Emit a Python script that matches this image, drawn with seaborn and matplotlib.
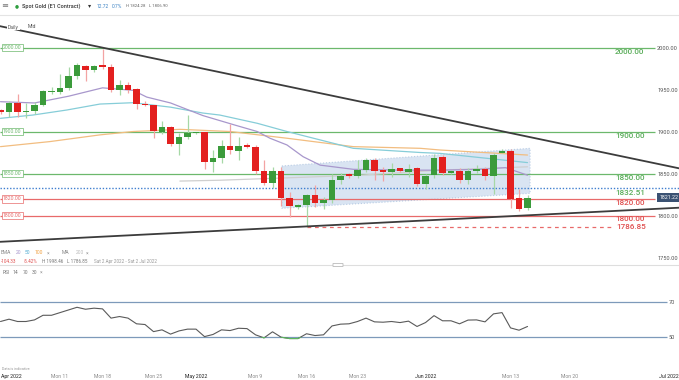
import matplotlib
matplotlib.use("Agg")
import matplotlib.pyplot as plt
import numpy as np
import pandas as pd
import seaborn as sns
from matplotlib.patches import Polygon, Rectangle, FancyBboxPatch


# daily candles (gold trades a short Sunday session, Good Friday closed)
DATES = [
    "2022-04-03", "2022-04-04", "2022-04-05", "2022-04-06", "2022-04-07", "2022-04-08",
    "2022-04-10", "2022-04-11", "2022-04-12", "2022-04-13", "2022-04-14",
    "2022-04-17", "2022-04-18", "2022-04-19", "2022-04-20", "2022-04-21", "2022-04-22",
    "2022-04-24", "2022-04-25", "2022-04-26", "2022-04-27", "2022-04-28", "2022-04-29",
    "2022-05-01", "2022-05-02", "2022-05-03", "2022-05-04", "2022-05-05", "2022-05-06",
    "2022-05-08", "2022-05-09", "2022-05-10", "2022-05-11", "2022-05-12", "2022-05-13",
    "2022-05-15", "2022-05-16", "2022-05-17", "2022-05-18", "2022-05-19", "2022-05-20",
    "2022-05-22", "2022-05-23", "2022-05-24", "2022-05-25", "2022-05-26", "2022-05-27",
    "2022-05-29", "2022-05-30", "2022-05-31", "2022-06-01", "2022-06-02", "2022-06-03",
    "2022-06-05", "2022-06-06", "2022-06-07", "2022-06-08", "2022-06-09", "2022-06-10",
    "2022-06-12", "2022-06-13", "2022-06-14", "2022-06-15",
]
OPEN = [
    1926, 1923.6, 1933.5, 1923, 1924.5, 1932,
    1946.5, 1947, 1952, 1966, 1978.5,
    1973, 1979, 1977, 1950, 1955.5, 1950.5,
    1932, 1931, 1900, 1905, 1885, 1893,
    1898, 1899, 1864, 1869, 1883, 1877,
    1884, 1882, 1853, 1839, 1853, 1821,
    1810, 1812, 1824, 1815, 1818, 1842,
    1849, 1847, 1854, 1866, 1854, 1852,
    1856, 1852, 1856, 1838, 1848, 1870,
    1851, 1853, 1842, 1853, 1855, 1847,
    1875, 1877, 1821, 1809,
]
HIGH = [
    1927, 1936, 1945, 1934, 1935, 1949,
    1953, 1969, 1977, 1981, 1979,
    1979, 1998, 1980, 1961, 1959, 1952,
    1936, 1932, 1912, 1906, 1898, 1920,
    1900, 1900, 1878, 1890, 1909, 1894,
    1886, 1884, 1866, 1858, 1858, 1828,
    1814, 1826, 1836, 1822, 1849, 1851,
    1851, 1866, 1869, 1868, 1858, 1862,
    1857, 1861, 1858, 1849, 1873, 1872,
    1854, 1857, 1856, 1860, 1858, 1875,
    1879, 1879, 1832, 1824.28,
]
LOW = [
    1921, 1917, 1917, 1916, 1921, 1930,
    1945, 1945, 1950, 1963, 1960,
    1971, 1975, 1947, 1943, 1946, 1927,
    1930, 1892, 1897, 1883, 1872, 1891,
    1897, 1855, 1852, 1862, 1873, 1866,
    1880, 1850, 1836, 1833, 1811, 1798,
    1808, 1786.85, 1810, 1808, 1815, 1837,
    1845, 1845, 1852, 1842, 1841, 1846,
    1852, 1846, 1835, 1832, 1845, 1848,
    1850, 1839, 1838, 1851, 1842, 1826,
    1874, 1809, 1805, 1806.9,
]
CLOSE = [
    1923, 1934, 1923.6, 1925, 1931.5, 1948,
    1947.5, 1952, 1966, 1979, 1973,
    1978.5, 1977, 1950, 1955.5, 1950, 1933,
    1931, 1901, 1905, 1885, 1893, 1898,
    1899.5, 1864, 1869, 1883, 1878, 1883,
    1882, 1853, 1839, 1853, 1821, 1811,
    1812, 1824, 1815, 1818, 1842, 1847,
    1847, 1854, 1866, 1853, 1852, 1855,
    1853, 1855, 1838, 1847, 1869, 1851,
    1853, 1842, 1853, 1855, 1847, 1872,
    1877, 1820, 1808, 1821.22,
]
RSI = [
    58.8, 60.1, 58.8, 58.8, 59.7, 62.3, 62.3, 63.8, 65.3, 66.8, 65.7,
    66.3, 65.9, 60.7, 61.6, 60.7, 57.5, 57.1, 53.1, 54.1, 51.7, 53.5,
    54.5, 54.5, 50.3, 51.5, 54.1, 53.7, 55.0, 54.8, 51.3, 49.6, 53.0,
    50.0, 49.2, 49.2, 51.9, 50.9, 51.3, 56.3, 57.3, 57.5, 58.8, 60.7,
    58.6, 58.4, 58.8, 58.2, 59.0, 56.0, 58.2, 62.1, 59.2, 59.2, 57.5,
    59.6, 59.7, 58.6, 63.1, 63.8, 55.2, 53.9, 56.0,
]

# moving averages at a few candle positions
EMA20_X = [0, 4, 8, 12, 15.6, 17.2, 20, 23.8, 27.8, 30.2, 31.7, 33.7, 35.6, 37.6, 41.5, 47, 51.7, 56.4, 59.4, 62]
EMA20_Y = [1935.5, 1934, 1942, 1952, 1949, 1941, 1934, 1919, 1907, 1900, 1892, 1884, 1870, 1860, 1855, 1854, 1854, 1855, 1857, 1848]
EMA50_X = [0, 3.8, 7.8, 11.7, 15.6, 20, 23.8, 25.8, 30.2, 33.7, 41.5, 49.4, 51.7, 62]
EMA50_Y = [1915.7, 1919.6, 1925.6, 1932.7, 1934.3, 1929, 1922, 1919.6, 1909.8, 1900, 1880, 1875, 1874, 1863]
EMA100_X = [0, 5.8, 11.7, 15.6, 21.1, 27, 33.7, 41.5, 49.4, 51.7, 62]
EMA100_Y = [1882, 1888, 1896, 1900, 1902.6, 1900, 1892, 1882, 1880, 1878, 1872]
MA200_X = [21.1, 25.8, 42.3, 51.7, 62]
MA200_Y = [1841, 1842, 1848, 1854, 1858]

# drawn levels and trendlines
GREEN_LEVELS = [2000.0, 1900.0, 1850.0]
RED_LEVELS = [1820.0, 1800.0]
BLUE_LEVEL = 1832.51
LOW_LEVEL = 1786.85
LOW_LEVEL_SPAN = [36, 71.9]
UPPER_TREND = [2025.4, 1856.2]
LOWER_TREND = [1768.7, 1809.3]
CHANNEL_X = [33.1, 62.3, 62.3, 33.1]
CHANNEL_Y = [1859.0, 1880.0, 1826.4, 1808.6]
LAST_PRICE = 1821.22

PRICE_TICKS = [1750, 1800, 1850, 1900, 1950, 2000]
TICK_LABELS = ["Apr 2022", "Mon 11", "Mon 18", "Mon 25", "May 2022", "Mon 9",
               "Mon 16", "Mon 23", "Jun 2022", "Mon 13", "Mon 20", "Jul 2022"]
TICK_POS = [0, 7, 12, 18, 23, 30, 36, 42, 50, 60, 67, 79.8]

X_MIN, X_MAX = -0.06, 79.82
LINE_END = 77.0

GREEN = "#3b9b3b"
GREEN_WICK = "#a6d8a6"
RED = "#e3201f"
RED_WICK = "#f3a3a3"
LEVEL_GREEN = "#6cb86c"
LEVEL_RED = "#e86a6a"

W, H = 679.0, 380.0


def fx(px):
    return px / W


def fy(py):
    return 1 - py / H


sns.set_theme(style="white")
plt.rcParams["font.family"] = ["Roboto", "DejaVu Sans"]

fig = plt.figure(figsize=(W / 100, H / 100), dpi=100)
ax = fig.add_axes([0, fy(265), 1, 250 / H])
rsi_ax = fig.add_axes([0, fy(370), 1, 105 / H])

for a in (ax, rsi_ax):
    for s in a.spines.values():
        s.set_visible(False)
    a.set_xlim(X_MIN, X_MAX)
    a.set_facecolor("white")

ax.spines["top"].set_visible(True)
ax.spines["top"].set_color("#e4e4e4")
ax.spines["top"].set_linewidth(0.8)
rsi_ax.spines["top"].set_visible(True)
rsi_ax.spines["top"].set_color("#dedede")
rsi_ax.spines["top"].set_linewidth(0.8)

ax.set_ylim(1741.1, 2038.7)

df = pd.DataFrame({"date": DATES, "open": OPEN, "high": HIGH, "low": LOW, "close": CLOSE})
df["i"] = np.arange(len(df))
up = df["close"] >= df["open"]

# channel box
ax.add_patch(Polygon(list(zip(CHANNEL_X, CHANNEL_Y)), closed=True, facecolor="#cddcee",
                     alpha=0.75, edgecolor="#a9c0de", linestyle=":", linewidth=0.8, zorder=1))

# levels
for lvl in GREEN_LEVELS:
    ax.hlines(lvl, X_MIN, LINE_END, color=LEVEL_GREEN, lw=0.9, zorder=2)
for lvl in RED_LEVELS:
    ax.hlines(lvl, X_MIN, LINE_END, color=LEVEL_RED, lw=0.9, zorder=2)
ax.hlines(BLUE_LEVEL, X_MIN, X_MAX, color="#3f7fcf", lw=1.0, linestyles=(0, (1, 1.3)), zorder=2)
ax.hlines(LOW_LEVEL, LOW_LEVEL_SPAN[0], LOW_LEVEL_SPAN[1], color=LEVEL_RED, lw=0.9,
          linestyles=(0, (3, 3)), zorder=2)

# moving averages
for xs, ys, col in [(MA200_X, MA200_Y, "#cfcfcf"), (EMA100_X, EMA100_Y, "#f2bd80"),
                    (EMA50_X, EMA50_Y, "#86cdd8"), (EMA20_X, EMA20_Y, "#a897cc")]:
    sns.lineplot(x=xs, y=ys, ax=ax, color=col, lw=0.9, zorder=3, legend=False)

# candles
ax.vlines(df["i"], df["low"], df["high"], colors=np.where(up, GREEN_WICK, RED_WICK), lw=0.9, zorder=4)
body = (df["close"] - df["open"]).abs().clip(lower=1.6)
ax.bar(df["i"], body, bottom=np.minimum(df["open"], df["close"]), width=0.72,
       color=np.where(up, GREEN, RED), linewidth=0, zorder=5)

# trendlines
ax.plot([X_MIN, X_MAX], UPPER_TREND, color="#3c3c3c", lw=1.3, zorder=6)
ax.plot([X_MIN, X_MAX], LOWER_TREND, color="#3c3c3c", lw=1.3, zorder=6)

# level labels on the right
for lvl in GREEN_LEVELS + [BLUE_LEVEL]:
    ax.text(72.3, lvl - 5.4, f"{lvl:.2f}", color="#5aad5a", fontsize=5.9,
            fontweight="medium", ha="left", va="center", zorder=7)
for lvl in RED_LEVELS:
    ax.text(72.3, lvl - 4.6, f"{lvl:.2f}", color="#e05050", fontsize=5.9,
            fontweight="medium", ha="left", va="center", zorder=7)
ax.text(72.5, LOW_LEVEL - 0.8, f"{LOW_LEVEL:.2f}", color="#e05050", fontsize=5.9,
        fontweight="medium", ha="left", va="center", zorder=7)

# small boxed labels on the left
for lvl, col in [(v, LEVEL_GREEN) for v in GREEN_LEVELS] + [(v, LEVEL_RED) for v in RED_LEVELS]:
    ax.text(0.3, lvl, f"{lvl:.2f}", color=col, fontsize=3.7, ha="left", va="center", zorder=8,
            bbox=dict(boxstyle="square,pad=0.25", fc="white", ec=col, lw=0.5))

# last price tag
ax.text(0.999, LAST_PRICE, f"{LAST_PRICE:.2f}", transform=ax.get_yaxis_transform(),
        color="white", fontsize=3.8, ha="right", va="center", zorder=9,
        bbox=dict(boxstyle="square,pad=0.35", fc="#3b5273", ec="none"))

ax.set_xticks([])
ax.yaxis.tick_right()
ax.set_yticks(PRICE_TICKS)
ax.set_yticklabels([f"{v:.2f}" for v in PRICE_TICKS])
ax.tick_params(axis="y", length=0, pad=-15.8, labelsize=4.1, labelcolor="#555555",
               labelright=True, labelleft=False)
ax.set_xlabel("")
ax.set_ylabel("")

# RSI panel
rsi_ax.set_ylim(31.5, 90.6)
rsi_ax.hlines([70, 50], X_MIN, 78.4, color="#7d9aba", lw=0.9, zorder=1)
sns.lineplot(x=df["i"], y=RSI, ax=rsi_ax, color="#5a5a5a", lw=0.8, zorder=2, legend=False)
below = rsi_ax.plot(df["i"], RSI, color="#5cb85c", lw=0.8, zorder=3)[0]
clip = Rectangle((X_MIN, 0), X_MAX - X_MIN, 50, transform=rsi_ax.transData)
below.set_clip_path(clip)

rsi_ax.yaxis.tick_right()
rsi_ax.set_yticks([50, 70])
rsi_ax.set_yticklabels(["50", "70"])
rsi_ax.tick_params(axis="y", length=0, pad=-7.5, labelsize=4.1, labelcolor="#555555",
                   labelright=True, labelleft=False)
rsi_ax.set_xticks(TICK_POS)
rsi_ax.set_xticklabels(TICK_LABELS)
rsi_ax.tick_params(axis="x", length=0, pad=2.6, labelsize=3.7, labelcolor="#8a8a8a")
for lab in rsi_ax.get_xticklabels():
    if "2022" in lab.get_text():
        lab.set_color("#222222")
rsi_ax.get_xticklabels()[0].set_ha("left")
rsi_ax.get_xticklabels()[-1].set_ha("right")
rsi_ax.set_xlabel("")
rsi_ax.set_ylabel("")

# header and annotations
fig.text(fx(1.5), fy(6), "≡", fontsize=6, color="#777777", va="center")
fig.text(fx(15), fy(6), "●", fontsize=3.3, color="#2e9e3e", va="center")
fig.text(fx(22), fy(6), "Spot Gold (E1 Contract)", fontsize=4.0, color="#333333",
         va="center", fontweight="medium")
fig.text(fx(88), fy(6), "▾", fontsize=4.5, color="#333333", va="center")
fig.text(fx(97), fy(6), "12.72", fontsize=3.5, color="#3b82c4", va="center")
fig.text(fx(112), fy(6), "0.7%", fontsize=3.5, color="#3b82c4", va="center")
fig.text(fx(126), fy(6), "H 1824.28", fontsize=3.1, color="#666666", va="center")
fig.text(fx(149), fy(6), "L 1806.90", fontsize=3.1, color="#666666", va="center")

fig.text(fx(8), fy(27), "Daily", fontsize=3.6, color="#555555", va="center",
         bbox=dict(boxstyle="square,pad=0.15", fc="white", ec="none"))
fig.text(fx(28), fy(27), "Mid", fontsize=3.6, color="#555555", va="center")

row1 = [("EMA", 1, "#888888"), ("20", 16, "#a897cc"), ("50", 25, "#4aa8d0"),
        ("100", 35, "#f0a040"), ("×", 47, "#999999"), ("MA", 62, "#888888"),
        ("200", 76, "#bbbbbb"), ("×", 86, "#999999")]
for txt, x, col in row1:
    fig.text(fx(x), fy(253), txt, fontsize=3.6, color=col, va="center")
row2 = [("-104.33", 1, "#e05050"), ("-5.42%", 24, "#e05050"), ("H 1998.46", 42, "#777777"),
        ("L 1786.85", 67, "#777777"), ("Sat 2 Apr 2022 - Sat 2 Jul 2022", 94, "#999999")]
for txt, x, col in row2:
    fig.text(fx(x), fy(261.5), txt, fontsize=3.3, color=col, va="center")
row3 = [("RSI", 3, "#777777"), ("14", 13, "#777777"), ("70", 23, "#777777"),
        ("30", 32, "#777777"), ("×", 40, "#999999")]
for txt, x, col in row3:
    fig.text(fx(x), fy(272.5), txt, fontsize=3.6, color=col, va="center")

fig.text(fx(2), fy(369), "Data is indicative", fontsize=2.6, color="#999999", va="center")

fig.add_artist(FancyBboxPatch((fx(333), fy(266.5)), 10 / W, 3 / H, boxstyle="round,pad=0",
                              transform=fig.transFigure, fc="white", ec="#bbbbbb", lw=0.6))

fig.savefig("out.png", dpi=100)
plt.close(fig)
